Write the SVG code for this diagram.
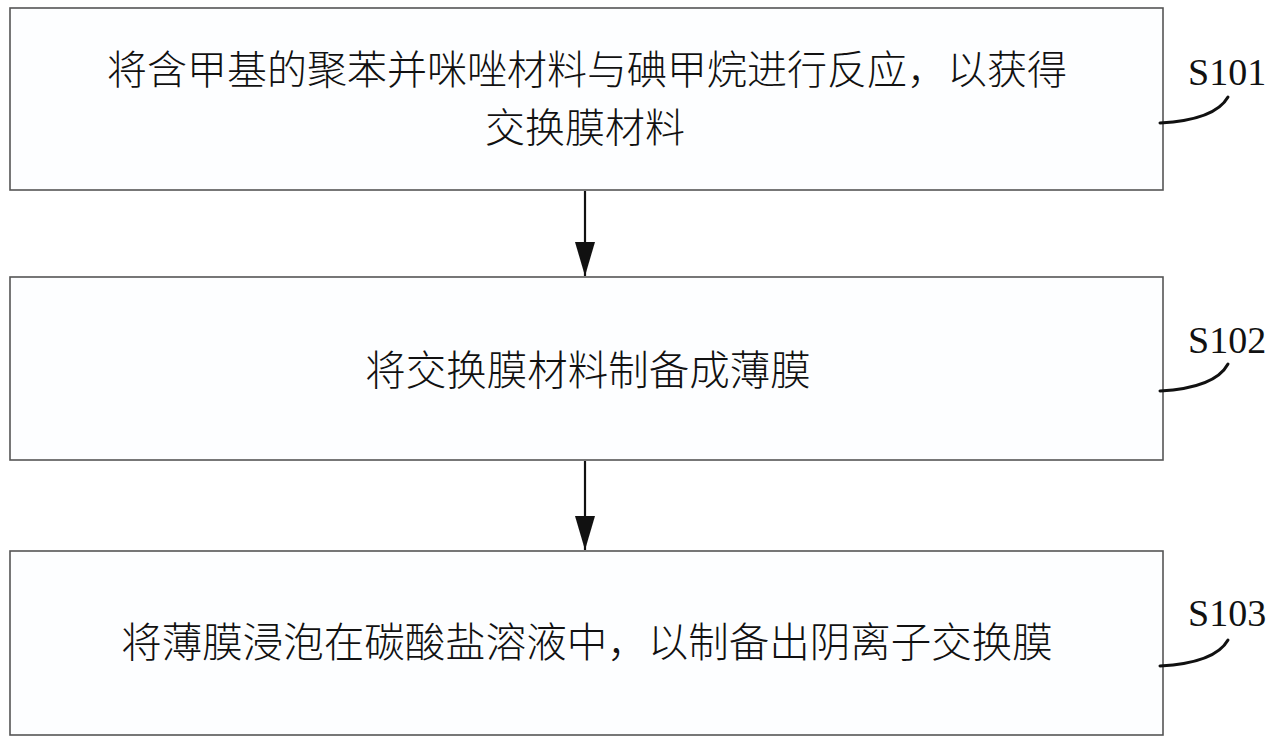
<svg xmlns="http://www.w3.org/2000/svg" width="1280" height="745" viewBox="0 0 1280 745">
<defs>
<style>
.box{fill:#fdfeff;stroke:#555;stroke-width:1.6}
.t{font-family:"Noto Sans CJK SC","Noto Sans CJK JP",sans-serif;font-size:40px;font-weight:300;fill:#111;text-anchor:middle}
.t2{font-size:40.5px}
.lbl{font-family:"Liberation Serif",serif;font-size:38px;fill:#111}
.tail{fill:none;stroke:#111;stroke-width:3;stroke-linecap:round}
.conn{stroke:#111;stroke-width:2.2;fill:none}
</style>
<marker id="ah" markerWidth="34" markerHeight="20" refX="34" refY="10" orient="auto" markerUnits="userSpaceOnUse" viewBox="0 0 34 20">
<path d="M0,0 L34,10 L0,20 Z" fill="#111"/>
</marker>
</defs>
<rect width="1280" height="745" fill="#fff"/>
<g id="s101">
<rect class="box" x="10" y="8" width="1153" height="182"/>
<text class="t" x="587" y="84">将含甲基的聚苯并咪唑材料与碘甲烷进行反应，以获得</text>
<text class="t" x="585" y="142">交换膜材料</text>
<text class="lbl" x="1188" y="85">S101</text>
<path class="tail" d="M1160,123 Q1215,120 1228,97"/>
</g>
<g id="s102">
<rect class="box" x="10" y="277" width="1153" height="183"/>
<text class="t t2" x="588" y="385">将交换膜材料制备成薄膜</text>
<text class="lbl" x="1188" y="353">S102</text>
<path class="tail" d="M1160,391 Q1215,388 1228,364"/>
</g>
<g id="s103">
<rect class="box" x="10" y="551" width="1153" height="184"/>
<text class="t t2" x="587" y="657">将薄膜浸泡在碳酸盐溶液中，以制备出阴离子交换膜</text>
<text class="lbl" x="1188" y="626">S103</text>
<path class="tail" d="M1160,666 Q1215,663 1228,640"/>
</g>
<g id="connectors">
<line class="conn" x1="585" y1="191" x2="585" y2="276" marker-end="url(#ah)"/>
<line class="conn" x1="585" y1="461" x2="585" y2="550" marker-end="url(#ah)"/>
</g>
</svg>
